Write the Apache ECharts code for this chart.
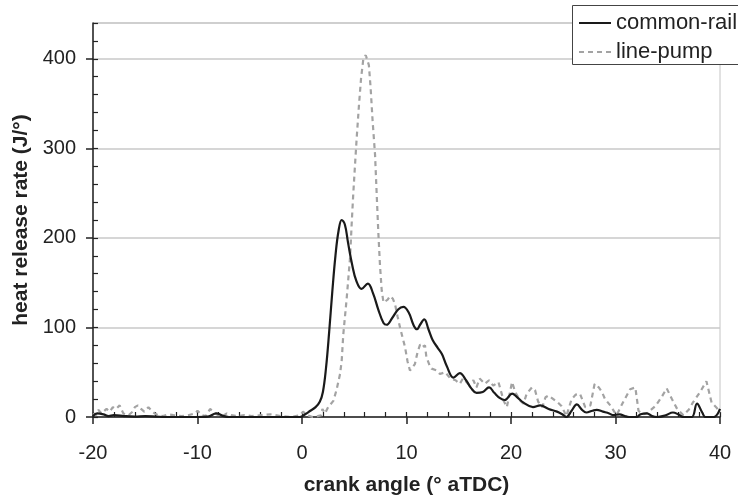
<!DOCTYPE html>
<html>
<head>
<meta charset="utf-8">
<script src="https://cdn.jsdelivr.net/npm/echarts@6/dist/echarts.min.js"></script>
<style>html,body{margin:0;padding:0;background:#fff;}#c{width:738px;height:501px;}</style>
</head>
<body>
<div id="c"></div>
<script>
// crank angle (° aTDC) and heat release rate (J/°)
var commonRail = [
  [-20, 1], [-19.6, 4], [-19, 3], [-18.5, 1], [-18, 2], [-17, 1], [-16, 0.5], [-15, 1], [-14, 0.5],
  [-13, 0], [-12, 0], [-11, 0], [-10, 0], [-9, 0.5], [-8.2, 4], [-7.5, 1], [-7, 0], [-5, 0], [-3, 0],
  [-0.2, 0], [0.3, 3], [0.8, 7], [1.3, 11], [1.7, 17], [2.0, 28], [2.3, 55], [2.6, 95], [2.9, 140],
  [3.2, 180], [3.5, 208], [3.8, 220], [4.1, 215], [4.4, 195], [4.8, 170], [5.2, 152], [5.7, 143],
  [6.3, 149], [6.8, 138], [7.3, 120], [7.8, 105], [8.1, 103], [8.6, 110], [9.2, 120], [9.7, 123],
  [10.2, 117], [10.7, 102], [11.0, 98], [11.3, 103], [11.7, 109], [12.1, 98], [12.5, 86], [13.0, 77],
  [13.4, 70], [13.85, 57], [14.5, 44], [15.1, 49], [15.7, 41], [16.2, 32], [16.7, 27], [17.3, 28],
  [17.9, 33], [18.4, 27], [18.95, 21], [19.4, 19], [20.1, 26], [20.6, 22], [21.2, 16], [22.1, 11],
  [22.8, 13], [23.6, 9], [24.4, 6], [24.9, 3], [25.3, 0], [25.8, 7], [26.3, 14], [26.8, 8], [27.2, 5],
  [27.8, 7], [28.2, 8], [28.8, 6], [29.4, 4], [29.8, 2], [30.4, 3], [30.9, 1], [31.3, 0], [32, 0],
  [32.4, 3], [33, 4], [33.5, 1], [34, 0], [34.8, 2], [35.5, 5], [36, 3], [36.5, 0], [37.3, 0],
  [37.8, 15], [38.3, 5], [38.6, 0], [39.4, 0], [40, 9]
];
var linePump = [
  [-20, 4], [-19.7, 2], [-19.5, 8], [-19.2, 4], [-18.7, 9], [-18.4, 6], [-18.1, 11], [-17.8, 9],
  [-17.45, 13], [-17.3, 11], [-17.1, 4], [-16.6, 2], [-16.2, 6], [-16.0, 11], [-15.7, 13], [-15.4, 9],
  [-15.1, 6], [-14.7, 11], [-14.4, 7], [-14.1, 4], [-13.8, 2], [-13.3, 1], [-12.8, 3], [-12.3, 2],
  [-11.5, 1], [-10.9, 2], [-10.2, 4], [-10.0, 7], [-9.6, 2], [-9.2, 1], [-8.8, 9], [-8.5, 6],
  [-8.05, 2], [-7.6, 1], [-7.2, 4], [-6.8, 2], [-6.2, 1], [-5.5, 2], [-4.8, 1], [-3.9, 2], [-3, 3],
  [-2, 1], [-1, 0], [-0.2, 2], [0.1, 6], [0.5, 2], [1.0, 0], [1.5, 1], [1.85, 2], [1.95, 9], [2.2, 4],
  [2.5, 11], [3.0, 18], [3.3, 30], [3.64, 48], [3.8, 63], [3.95, 92], [4.28, 133], [4.6, 178],
  [4.75, 215], [4.9, 248], [5.07, 281], [5.23, 311], [5.45, 348], [5.65, 378], [5.87, 400], [6.1, 404],
  [6.4, 393], [6.57, 367], [6.76, 330], [6.99, 293], [7.15, 248], [7.3, 207], [7.46, 170], [7.63, 141],
  [7.8, 128], [7.94, 126], [8.2, 131], [8.42, 135], [8.7, 132], [8.9, 126], [9.15, 112], [9.38, 100],
  [9.6, 90], [9.86, 78], [10.1, 62], [10.33, 52], [10.55, 55], [10.8, 59], [11.05, 72], [11.3, 81],
  [11.5, 78], [11.77, 80], [11.9, 67], [12.2, 58], [12.4, 54], [12.9, 52], [13.2, 48], [13.7, 50],
  [14.2, 43], [14.7, 41], [15.1, 37], [15.4, 43], [15.9, 37], [16.4, 41], [16.7, 33], [17.0, 43],
  [17.5, 37], [17.9, 41], [18.3, 35], [18.8, 39], [19.3, 18], [19.6, 11], [20.1, 39], [20.4, 28],
  [20.9, 18], [21.2, 15], [21.5, 26], [22.0, 33], [22.3, 30], [22.6, 17], [23.0, 11], [23.3, 22],
  [23.6, 24], [24.05, 20], [24.5, 16], [24.85, 12], [25.3, 1], [25.8, 20], [26.2, 25], [26.6, 26],
  [27.1, 11], [27.6, 13], [28.0, 37], [28.4, 33], [28.7, 28], [29.0, 20], [29.5, 13], [30.1, 2],
  [30.7, 16], [31.4, 31], [31.9, 33], [32.2, 7], [32.6, 3], [33, 4], [33.8, 12], [34.4, 22], [34.9, 32],
  [35.4, 20], [35.9, 9], [36.5, 2], [37.0, 8], [37.4, 16], [38.1, 28], [38.7, 40], [39.2, 16],
  [39.7, 10], [40, 5]
];
var seriesNames = ['common-rail', 'line-pump'];
var xTitle = 'crank angle (° aTDC)';
var yTitle = 'heat release rate (J/°)';

var FONT = '"Liberation Sans", Arial, sans-serif';
var chart = echarts.init(document.getElementById('c'), null, {renderer: 'canvas'});
chart.setOption({
  backgroundColor: '#ffffff',
  animation: false,
  grid: {left: 93, right: 18, top: 23, bottom: 81, show: true, borderColor: '#c4c4c4', borderWidth: 1, backgroundColor: 'transparent'},
  graphic: [{
    type: 'rect', left: 572, top: 5, z: 100,
    shape: {width: 200, height: 59},
    style: {fill: '#ffffff', stroke: '#444', lineWidth: 1}
  }],
  legend: {
    orient: 'vertical', left: 572, top: 5, z: 200,
    padding: [7, 10, 1, 6], itemGap: 7,
    itemWidth: 32, itemHeight: 14,
    borderWidth: 0, backgroundColor: 'transparent',
    itemStyle: {opacity: 0},
    textStyle: {fontFamily: FONT, fontSize: 22, color: '#222'},
    data: seriesNames
  },
  xAxis: [{
    type: 'value', min: -20, max: 40, interval: 10, position: 'bottom',
    name: xTitle, nameLocation: 'middle', nameGap: 58,
    nameTextStyle: {fontFamily: FONT, fontSize: 21, fontWeight: 'bold', color: '#222'},
    axisLine: {show: true, onZero: false, lineStyle: {color: '#222', width: 1.5}},
    axisTick: {show: true, inside: false, length: 7, lineStyle: {color: '#222', width: 1.5}},
    axisLabel: {fontFamily: FONT, fontSize: 20, color: '#222', margin: 26},
    splitLine: {show: false}
  }, {
    type: 'value', min: -20, max: 40, interval: 2, position: 'bottom', gridIndex: 0,
    axisLine: {show: false, onZero: false},
    axisTick: {show: true, inside: true, length: 5, lineStyle: {color: '#222', width: 1.2}},
    axisLabel: {show: false}, splitLine: {show: false}
  }],
  yAxis: [{
    type: 'value', min: 0, max: 440, interval: 100, position: 'left',
    name: yTitle, nameLocation: 'middle', nameGap: 61, nameRotate: 90,
    nameTextStyle: {fontFamily: FONT, fontSize: 21, fontWeight: 'bold', color: '#222'},
    axisLine: {show: true, onZero: false, lineStyle: {color: '#222', width: 1.5}},
    axisTick: {show: true, inside: false, length: 7, lineStyle: {color: '#222', width: 1.5}},
    axisLabel: {fontFamily: FONT, fontSize: 20, color: '#222', margin: 17, showMaxLabel: false},
    splitLine: {show: true, lineStyle: {color: '#c8c8c8', width: 1.5}}
  }, {
    type: 'value', min: 0, max: 440, interval: 20, position: 'left', gridIndex: 0,
    axisLine: {show: false, onZero: false},
    axisTick: {show: true, inside: true, length: 5, lineStyle: {color: '#222', width: 1.2}},
    axisLabel: {show: false}, splitLine: {show: false}
  }],
  series: [{
    name: seriesNames[0], type: 'line', xAxisIndex: 0, yAxisIndex: 0,
    data: commonRail, symbol: 'none', smooth: 0.4, z: 3,
    lineStyle: {color: '#1a1a1a', width: 2.2}, itemStyle: {color: '#1a1a1a'}
  }, {
    name: seriesNames[1], type: 'line', xAxisIndex: 0, yAxisIndex: 0,
    data: linePump, symbol: 'none', smooth: false, z: 2,
    lineStyle: {color: '#a3a3a3', width: 2.2, type: [5, 4]}, itemStyle: {color: '#a3a3a3'}
  }]
});
</script>
</body>
</html>
